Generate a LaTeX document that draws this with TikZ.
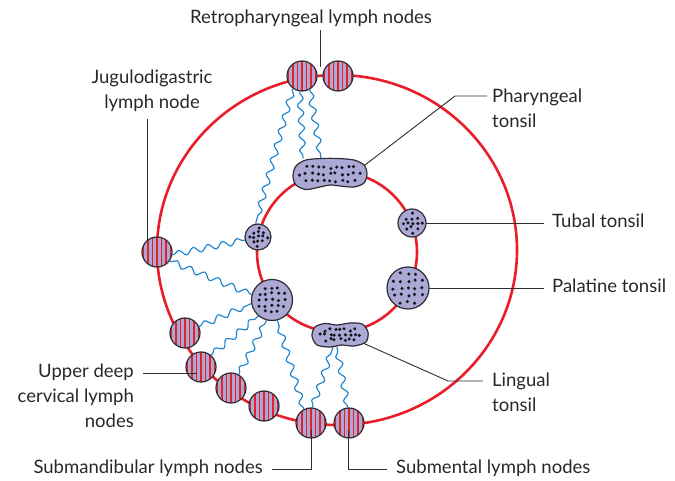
\documentclass[tikz,border=0pt]{standalone}
\usepackage{fontspec}
\setmainfont{Lato}
\usetikzlibrary{decorations.pathmorphing,calc}
\definecolor{redc}{RGB}{232,30,42}
\definecolor{lav}{RGB}{172,168,214}
\definecolor{bluec}{RGB}{28,132,206}
\definecolor{edgec}{RGB}{45,45,50}
\definecolor{txt}{RGB}{40,40,40}
\definecolor{dotc}{RGB}{20,20,28}
\pgfdeclarelayer{bg}
\pgfsetlayers{bg,main}
\newcommand\mydots[5]{%
  \pgfmathsetseed{#5}%
  \foreach \i in {-6,...,6}{\foreach \j in {-4,...,4}{%
    \pgfmathsetmacro\mydd{(\i/#3)^2+(\j/#4)^2}%
    \ifdim\mydd pt<1pt\relax
      \pgfmathsetmacro\mypx{\i*#1+1.3*rand}%
      \pgfmathsetmacro\mypy{\j*#2+1.3*rand}%
      \fill[fill=dotc, draw=none] ([xshift=\mypx pt, yshift=\mypy pt]path picture bounding box.center) circle (1.7pt);%
    \fi}}}
\begin{document}
\begin{tikzpicture}[x=1pt,y=-1pt,
  lbl/.style={font=\fontsize{18.5}{25}\selectfont, text=txt, inner sep=0pt},
  conn/.style={draw=edgec, line width=0.9pt},
  ring/.style={draw=redc, line width=2.6pt},
  wavy/.style={draw=bluec, line width=1.15pt, decorate,
    decoration={snake, amplitude=3pt, segment length=15pt, pre length=2pt, post length=2pt}},
  lymph/.style={circle, draw=edgec, line width=1.2pt, fill=lav, minimum size=30pt, inner sep=0pt,
    path picture={\foreach \dx in {-13.5,-9,...,13.5}{\draw[draw=redc, line width=1.3pt]
      ([xshift=\dx pt]path picture bounding box.north) -- ([xshift=\dx pt]path picture bounding box.south);}}},
  tonsil/.style={circle, draw=edgec, line width=1.2pt, fill=lav, inner sep=0pt},
  bean/.style={draw=edgec, line width=1.2pt, fill=lav},
]
\useasboundingbox (0,0) rectangle (675,481);

% lymph nodes
\node[lymph] (r1) at (302,76) {};
\node[lymph] (r2) at (338,76) {};
\node[lymph] (jd) at (157,252) {};
\node[lymph] (n1) at (185,333) {};
\node[lymph] (n2) at (201,367) {};
\node[lymph] (n3) at (231,388) {};
\node[lymph] (n4) at (264,406) {};
\node[lymph] (n5) at (311,423) {};
\node[lymph] (n6) at (349,423) {};

% tonsils
\node[tonsil, minimum size=26pt, path picture={\mydots{4.5}{4.5}{2.1}{2.1}{11}}] (st) at (258,237) {};
\node[tonsil, minimum size=28pt, path picture={\mydots{4.8}{4.8}{2.1}{2.1}{17}}] (tu) at (412,223) {};
\node[tonsil, minimum size=42pt, path picture={\mydots{7}{7}{2.5}{2.5}{5}}] (pa) at (408,288) {};
\node[tonsil, minimum size=41pt, path picture={\mydots{6}{6}{2.5}{2.5}{9}}] (bt) at (272,300) {};

\node[minimum width=74pt, minimum height=31pt, inner sep=0pt] (ph) at (330,174) {};
\begin{scope}[shift={(ph.center)}]
\draw[bean, path picture={\mydots{6}{6.5}{5.3}{1.8}{21}}] plot[smooth cycle] coordinates
  {(-37,2) (-34,-8) (-24,-14) (-8,-15.5) (8,-15.5) (24,-14) (34,-9) (37,0) (34,9) (24,13) (10,12) (0,11) (-10,13) (-24,15.5) (-34,11)};
\end{scope}
\node[minimum width=56pt, minimum height=24pt, inner sep=0pt] (li) at (340,335) {};
\begin{scope}[shift={(li.center)}]
\draw[bean, path picture={\mydots{5}{5}{4.8}{1.6}{33}}] plot[smooth cycle] coordinates
  {(-28,1) (-25,-8) (-15,-11.5) (-3,-10) (10,-12) (22,-11) (28,-3) (26,7) (14,11) (2,10) (-10,12) (-23,10)};
\end{scope}

% labels (multi-line nodes: base = baseline of the last line)
\node[lbl, anchor=base] (tr) at (311,24) {Retropharyngeal lymph nodes};
\node[lbl, anchor=base, align=center] (tj) at (152,109) {Jugulodigastric\\lymph node};
\node[lbl, anchor=base west, align=left] (tp) at (492,128) {Pharyngeal\\tonsil};
\node[lbl, anchor=base west] (tt) at (552,228) {Tubal tonsil};
\node[lbl, anchor=base west] (tpa) at (552,293) {Palatine tonsil};
\node[lbl, anchor=base west, align=left] (tl) at (492,411) {Lingual\\tonsil};
\node[lbl, anchor=base east, align=right] (tu2) at (134,427) {Upper deep\\cervical lymph\\nodes};
\node[lbl, anchor=base east] (tsm) at (263,473) {Submandibular lymph nodes};
\node[lbl, anchor=base west] (tsn) at (396,473) {Submental lymph nodes};

\coordinate (rtA) at (320,30);
\coordinate (rtB) at (320,67);
\coordinate (jdA) at (147,119);
\coordinate (phA) at (487,96);
\coordinate (phB) at (455,96);
\coordinate (tuA) at (544,223);
\coordinate (paA) at (544,288);
\coordinate (liA) at (483,381);
\coordinate (liB) at (448,381);
\coordinate (udA) at (143,373);
\coordinate (smA) at (272,469);
\coordinate (snA) at (387,469);

\begin{pgfonlayer}{bg}
\draw[ring] (337,250) ellipse [x radius=180pt, y radius=175pt];
\draw[ring] (337,252) circle [radius=80pt];
% lymph vessels
\draw[wavy] (r1.234) -- (st.100);
\draw[wavy] (r1.262) -- ([xshift=-27pt]ph.north);
\draw[wavy] (r1.300) -- ([xshift=-9pt]ph.north);
\draw[wavy] (jd.-10) -- (st.193);
\draw[wavy] (jd.-35) -- (bt.165);
\draw[wavy] (n1.25) -- (bt.190);
\draw[wavy] (n2.50) -- (bt.230);
\draw[wavy] (n3.60) -- (bt.255);
\draw[wavy] (n5.118) -- (bt.285);
\draw[wavy] (n5.85) -- ([xshift=-7pt]li.south);
\draw[wavy] (n6.95) -- ([xshift=-3pt]li.south);
% leaders that stop at the outline
\draw[conn] (jdA) -- (jdA |- jd.center);
\draw[conn] (phA) -- (phB) -- ([xshift=18pt,yshift=-4pt]ph.center);
\draw[conn] (liA) -- (liB) -- ([xshift=15pt,yshift=-4.5pt]li.center);
\draw[conn] (tuA) -- (tu.center);
\draw[conn] (paA) -- (pa.center);
\end{pgfonlayer}

% leaders that run into the nodes
\draw[conn] (rtA) -- (rtB);
\draw[conn] (udA) -- ([xshift=-4pt,yshift=-6pt]n2.center);
\draw[conn] (smA) -| ([yshift=-7pt]n5.center);
\draw[conn] (snA) -| ([xshift=-1pt,yshift=-7pt]n6.center);
\end{tikzpicture}
\end{document}
